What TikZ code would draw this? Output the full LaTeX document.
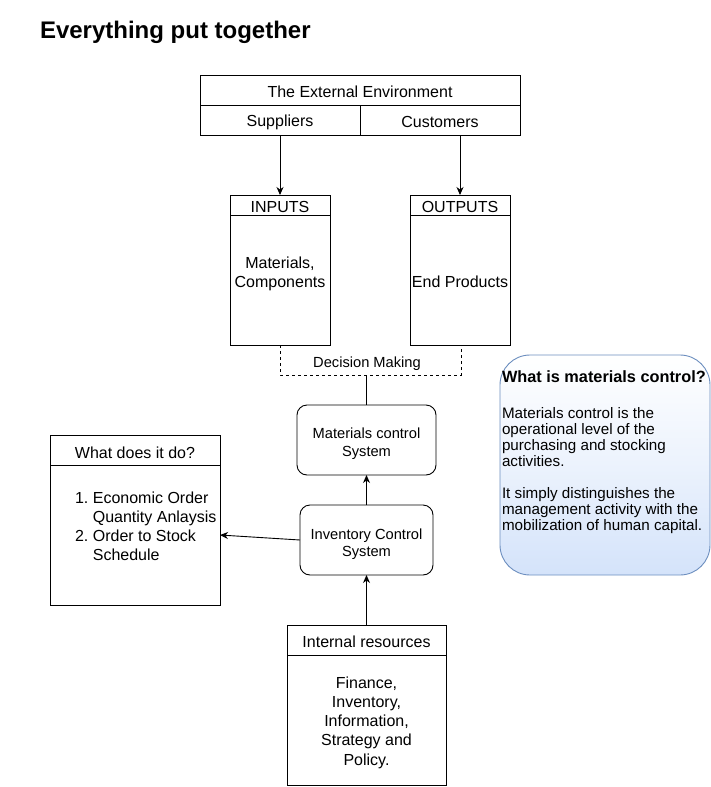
\documentclass[tikz,border=0pt]{standalone}
\usepackage{fontspec}
\setmainfont{Liberation Sans}
\usetikzlibrary{arrows.meta}
\definecolor{calloutborder}{RGB}{108,142,191}
\definecolor{calloutbottom}{RGB}{212,227,250}
\begin{document}
\begin{tikzpicture}[x=1pt,y=-1pt,
  every node/.style={inner sep=0pt,outer sep=0pt},
  cell/.style={draw,line width=0.9pt},
  rbox/.style={draw,line width=0.9pt,rounded corners=10pt},
  txt/.style={font=\fontsize{16}{19.2}\selectfont,align=center},
  stxt/.style={font=\fontsize{14.67}{17.6}\selectfont,align=center},
  link/.style={line width=0.9pt},
  arr/.style={line width=0.9pt,-{Stealth[length=8pt,width=7pt,inset=2.5pt]}},
  dashlink/.style={line width=0.9pt,dashed,dash pattern=on 3pt off 3pt}]
\useasboundingbox (0,0) rectangle (711,787);

% title
\node[anchor=base west,font=\fontsize{24}{28}\bfseries] (title) at (40,38) {Everything put together};

% external environment
\node[cell,minimum width=320pt,minimum height=30pt] (envhead) at (360,90) {};
\node[cell,minimum width=160pt,minimum height=30pt] (sup) at (280,120) {};
\node[cell,minimum width=160pt,minimum height=30pt] (cus) at (440,120) {};
\node[txt] (envtext) at (360,92) {The External Environment};
\node[txt] (suptext) at (280,122) {Suppliers};
\node[txt] (custext) at (440,121.5) {Customers};

% inputs
\node[cell,minimum width=100pt,minimum height=20pt] (inhead) at (280,205) {};
\node[cell,minimum width=100pt,minimum height=130pt] (inbody) at (280,280) {};
\node[txt] (inheadtext) at (280,206.5) {INPUTS};
\node[txt] (intext) at (280,274) {Materials,\\Components};

% outputs
\node[cell,minimum width=100pt,minimum height=20pt] (outhead) at (460,205) {};
\node[cell,minimum width=100pt,minimum height=130pt] (outbody) at (460,280) {};
\node[txt] (outheadtext) at (460,206.5) {OUTPUTS};
\node[txt] (outtext) at (460,281.5) {End Products};

% arrows from environment
\draw[arr] (sup.south -| inhead.north) -- (inhead.north);
\draw[arr] (cus.south -| outhead.north) -- (outhead.north);

% decision making
\coordinate (dmL) at (280,375);
\coordinate (dmR) at (461,375);
\coordinate (dmM) at (366,375);
\draw[dashlink] (inbody.south) -- (dmL) -- (dmR) -- (outbody.south -| dmR);
\node[stxt] (dm) at (367,364) {Decision Making};

% materials control system
\node[rbox,minimum width=139pt,minimum height=70pt] (mcs) at (366.5,440) {};
\node[stxt] (mcstext) at (366.5,444) {Materials control\\System};
\draw[link] (dmM) -- (mcs.north -| dmM);

% inventory control system
\node[rbox,minimum width=133pt,minimum height=70pt] (ics) at (366.5,540) {};
\node[stxt] (icstext) at (366.5,544) {Inventory Control\\System};
\draw[arr] (ics.north) -- (mcs.south);

% internal resources
\node[cell,minimum width=159pt,minimum height=30pt] (irhead) at (366.5,640) {};
\node[cell,minimum width=159pt,minimum height=130pt] (irbody) at (366.5,720) {};
\node[txt] (irheadtext) at (366.5,642) {Internal resources};
\node[txt] (irtext) at (366.5,722.5) {Finance,\\Inventory,\\Information,\\Strategy and\\Policy.};
\draw[arr] (irhead.north) -- (ics.south);

% what does it do
\node[cell,minimum width=170pt,minimum height=30pt] (wdohead) at (135,450) {};
\node[cell,minimum width=170pt,minimum height=140pt] (wdobody) at (135,535) {};
\node[txt] (wdoheadtext) at (135,453) {What does it do?};
\node[anchor=west,font=\fontsize{16}{19.2}\selectfont] (wdotext) at (75,528)
  {\begin{tabular}{@{}l@{\hspace{4.5pt}}l@{}}1.&Economic Order\\&Quantity Anlaysis\\2.&Order to Stock\\&Schedule\end{tabular}};
\draw[arr] (ics.west) -- (wdobody.east);

% callout
\node[draw=calloutborder,line width=0.9pt,rounded corners=30pt,minimum width=210pt,minimum height=220pt,
  top color=white,bottom color=calloutbottom,middle color={calloutbottom!45!white}] (callout) at (605,465) {};
\node[anchor=north west,align=left,font=\fontsize{15.2}{16}\selectfont] (callouttext) at (502,370.5)
  {{\fontsize{16.3}{16}\selectfont\bfseries What is materials control?}\\[20pt]
   Materials control is the\\
   operational level of the\\
   purchasing and stocking\\
   activities.\\[16pt]
   It simply distinguishes the\\
   management activity with the\\
   mobilization of human capital.};
\end{tikzpicture}
\end{document}
